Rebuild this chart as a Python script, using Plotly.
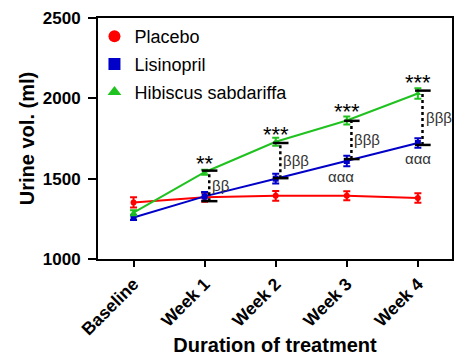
import plotly.graph_objects as go

weeks = ["Baseline", "Week 1", "Week 2", "Week 3", "Week 4"]
placebo = [1352, 1385, 1393, 1393, 1380]
placebo_err = [32, 28, 30, 28, 30]
lisinopril = [1258, 1390, 1500, 1610, 1722]
lisinopril_err = [15, 27, 30, 32, 30]
hibiscus = [1288, 1540, 1730, 1862, 2030]
hibiscus_err = [15, 15, 25, 25, 32]

# comparison brackets (Hibiscus vs Lisinopril) for weeks 1-4
bracket_idx = [1, 2, 3, 4]
bracket_top = [1550, 1722, 1860, 2048]
bracket_bottom = [1360, 1503, 1622, 1710]
star_labels = ["**", "***", "***", "***"]
star_y = [1592, 1773, 1916, 2100]
beta_labels = ["ββ", "βββ", "βββ", "βββ"]
alpha_idx = [3, 4]
alpha_labels = ["ααα", "ααα"]
alpha_y = [1513, 1623]

FONT = "Arial, Liberation Sans, sans-serif"
RED = "#ff0000"
BLUE = "#0000c8"
GREEN = "#1fc21f"

x = list(range(len(weeks)))
fig = go.Figure()

def series(name, y, err, color, symbol):
    fig.add_trace(go.Scatter(
        x=x, y=y, name=name, mode="lines+markers", showlegend=False,
        line=dict(color=color, width=2),
        marker=dict(color=color, symbol=symbol, size=6),
        error_y=dict(type="data", array=err, color=color, thickness=2, width=3.5),
    ))
    # legend entry shows only the marker, as in the reference
    fig.add_trace(go.Scatter(
        x=[None], y=[None], name=name, mode="markers", legendgroup=name,
        marker=dict(color=color, symbol=symbol, size=6),
    ))

series("Placebo", placebo, placebo_err, RED, "circle")
series("Lisinopril", lisinopril, lisinopril_err, BLUE, "square")
series("Hibiscus sabdariffa", hibiscus, hibiscus_err, GREEN, "triangle-up")

for i, top, bot in zip(bracket_idx, bracket_top, bracket_bottom):
    for v in (top, bot):
        fig.add_trace(go.Scatter(x=[i - 0.04, i + 0.18], y=[v, v], mode="lines",
                                 line=dict(color="black", width=2.5),
                                 showlegend=False, hoverinfo="skip"))
    fig.add_trace(go.Scatter(x=[i + 0.065, i + 0.065], y=[bot, top], mode="lines",
                             line=dict(color="black", width=2.5, dash="dot"),
                             showlegend=False, hoverinfo="skip"))

annotations = []
for i, lab, yy in zip(bracket_idx, star_labels, star_y):
    annotations.append(dict(x=i, y=yy, text=lab, showarrow=False,
                            font=dict(family=FONT, size=22, color="black"),
                            xanchor="center", yanchor="middle"))
for i, lab, top, bot in zip(bracket_idx, beta_labels, bracket_top, bracket_bottom):
    annotations.append(dict(x=i + 0.08, y=(top + bot) / 2, text=lab, showarrow=False,
                            font=dict(family=FONT, size=15, color="#333333"),
                            xanchor="left", yanchor="middle"))
alpha_shift = [-0.08, 0.0]
for i, s, lab, yy in zip(alpha_idx, alpha_shift, alpha_labels, alpha_y):
    annotations.append(dict(x=i + s, y=yy, text=lab, showarrow=False,
                            font=dict(family=FONT, size=15, color="#333333"),
                            xanchor="center", yanchor="middle"))

# page body has an 8px margin: figure sized so the page does not overflow
fig.update_layout(
    width=446, height=348,
    margin=dict(l=90, r=2, t=10, b=97, autoexpand=False),
    paper_bgcolor="white", plot_bgcolor="white",
    font=dict(family=FONT, color="black"),
    showlegend=True,
    legend=dict(x=-0.01, y=1.0, xanchor="left", yanchor="top",
                bgcolor="rgba(0,0,0,0)", font=dict(size=18),
                itemsizing="constant", tracegroupgap=1.5, itemwidth=30),
    annotations=annotations,
    xaxis=dict(
        range=[-0.5, 4.48], tickmode="array", tickvals=x,
        ticktext=["<b>%s</b>" % w for w in weeks],
        tickangle=-45, tickfont=dict(size=17.5),
        showline=True, linecolor="black", linewidth=2, mirror=True,
        ticks="outside", ticklen=6, tickwidth=2, tickcolor="black",
        showgrid=False, zeroline=False, automargin=False,
        title=dict(text="<b>Duration of treatment</b>", font=dict(size=20), standoff=14),
    ),
    yaxis=dict(
        range=[1000, 2500], tickvals=[1000, 1500, 2000, 2500],
        ticktext=["<b>1000</b>", "<b>1500</b>", "<b>2000</b>", "<b>2500</b>"],
        tickfont=dict(size=17), ticklabelstandoff=4,
        showline=True, linecolor="black", linewidth=2, mirror=True,
        ticks="outside", ticklen=8, tickwidth=2, tickcolor="black",
        showgrid=False, zeroline=False, automargin=False,
        title=dict(text="<b>Urine vol. (ml)</b>", font=dict(size=20), standoff=3),
    ),
)

fig.write_html("out.html")
